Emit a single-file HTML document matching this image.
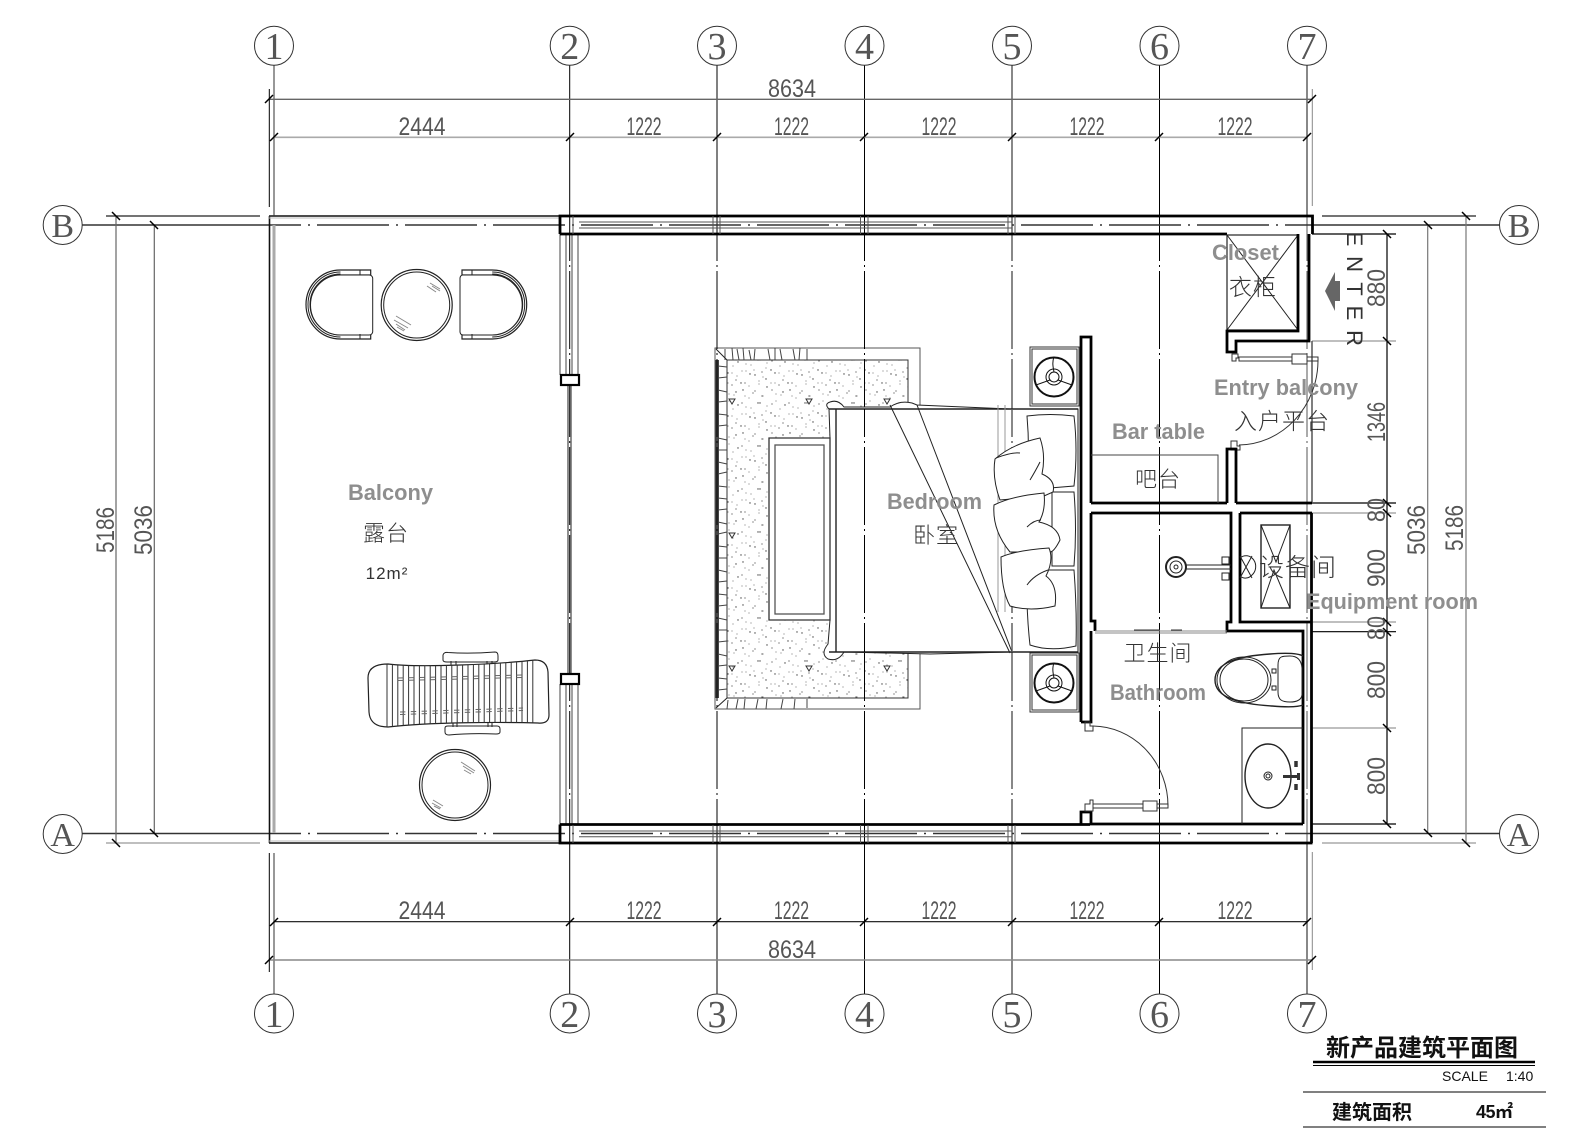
<!DOCTYPE html>
<html lang="zh">
<head>
<meta charset="utf-8">
<title>新产品建筑平面图</title>
<style>
html,body{margin:0;padding:0;background:#fff}
svg{display:block}
.dim{font-family:"Liberation Sans",sans-serif;font-size:25px;fill:#555;text-anchor:middle;font-weight:normal}
.axis{font-family:"Liberation Serif",serif;font-size:38px;fill:#555;text-anchor:middle}
.en{font-family:"Liberation Sans",sans-serif;font-weight:bold;font-size:22px;fill:#8e8e8e}
.cn{font-family:"Liberation Sans","Noto Sans CJK SC",sans-serif;font-weight:300;fill:#333;text-anchor:middle}
.bk{fill:none;stroke:#000;stroke-width:2.8}
.ln{fill:none;stroke:#222;stroke-width:1}
</style>
</head>
<body>
<svg width="1594" height="1140" viewBox="0 0 1594 1140" xmlns="http://www.w3.org/2000/svg">
<defs>
<pattern id="st" width="47" height="43" patternUnits="userSpaceOnUse">
<g fill="#444">
<circle cx="3" cy="4" r=".6"/><circle cx="11" cy="9" r=".5"/><circle cx="20" cy="3" r=".6"/><circle cx="29" cy="8" r=".5"/><circle cx="38" cy="3" r=".7"/><circle cx="44" cy="11" r=".5"/>
<circle cx="6" cy="16" r=".7"/><circle cx="15" cy="19" r=".5"/><circle cx="24" cy="14" r=".5"/><circle cx="33" cy="18" r=".7"/><circle cx="41" cy="20" r=".5"/>
<circle cx="2" cy="26" r=".5"/><circle cx="10" cy="28" r=".6"/><circle cx="19" cy="26" r=".7"/><circle cx="27" cy="29" r=".5"/><circle cx="37" cy="27" r=".5"/><circle cx="45" cy="30" r=".7"/>
<circle cx="7" cy="37" r=".5"/><circle cx="14" cy="35" r=".7"/><circle cx="23" cy="39" r=".5"/><circle cx="31" cy="36" r=".6"/><circle cx="40" cy="39" r=".6"/>
</g>
</pattern>
<clipPath id="lg"><path d="M388 664C420 668 500 664 535 660Q547 660 548 672L549 715Q549 724 538 723C500 722 430 722 388 727Q370 727 369 712L368 678Q368 664 388 664Z"/></clipPath>
</defs>
<rect width="1594" height="1140" fill="#fff"/>

<!-- rug -->
<path d="M920 405V348H715V709H920V652" fill="none" stroke="#555" stroke-width="1"/>
<rect x="727" y="360" width="181" height="338" fill="url(#st)" stroke="#333" stroke-width="1"/>
<rect x="710" y="347" width="181" height="338" fill="url(#st)" transform="translate(17,13)"/>
<line x1="717" y1="360" x2="717" y2="698" stroke="#444" stroke-width="4"/>
<line x1="719" y1="362" x2="727" y2="362" stroke="#444" stroke-width="0"/>
<path fill="none" stroke="#444" stroke-width="1" d="M718 366l9 1M718 378l9-1M718 390l9 2M718 402l9-1M718 414l9 1M718 426l9-1M718 438l9 2M718 450l9 0M718 462l9 2M718 474l9-2M718 486l9 1M718 498l9 1M718 510l9-1M718 522l9 2M718 534l9-2M718 546l9 1M718 558l9 0M718 570l9 2M718 582l9-1M718 594l9 1M718 606l9-1M718 618l9 2M718 630l9 0M718 642l9-1M718 654l9 2M718 666l9-1M718 678l9 1M718 690l9-1"/>
<path fill="none" stroke="#444" stroke-width="1" d="M725 349v11M732 348l1 12M737 349l2 11M743 348l1 12M749 350l2 10M755 349l-1 11M768 349l2 11M775 348v12M780 349l2 11M793 349l2 11M800 348l-1 12M807 349v11M728 700l-1 9M738 699l-2 10M745 699l-1 10M758 699l-2 10M767 699l-1 10M783 699l-2 10M795 699l-1 10M807 699v9"/>
<path d="M716 349L727 360M716 708L727 698" class="ln"/>
<g fill="none" stroke="#333" stroke-width="1">
<path d="M729 399h6l-3 5zM806 399h6l-3 5zM884 399h6l-3 5zM729 533h6l-3 5zM729 666h6l-3 5zM806 666h6l-3 5zM884 666h6l-3 5z"/>
</g>

<!-- grid lines -->
<g fill="none" stroke="#000" stroke-width="1">
<line x1="274" y1="65" x2="274" y2="216" stroke="#777" stroke-width="1.5"/>
<line x1="274" y1="853" x2="274" y2="994" stroke="#777" stroke-width="1.5"/>
<path d="M569.7 65V216M569.7 843V994M717 65V216M717 843V994M864.5 65V216M864.5 843V994M1159.5 65V216M1159.5 843V994"/>
<path d="M1012 65V216M1012 843V994M1307 65V216M1307 843V994" stroke="#555" stroke-width="1.4"/>
<g stroke-dasharray="78 4 2 4" stroke-dashoffset="33">
<line x1="569.7" y1="216" x2="569.7" y2="843"/>
<line x1="717" y1="216" x2="717" y2="843"/>
<line x1="864.5" y1="216" x2="864.5" y2="843"/>
<line x1="1012" y1="216" x2="1012" y2="843" stroke="#555" stroke-width="1.4"/>
<line x1="1159.5" y1="216" x2="1159.5" y2="843"/>
<line x1="1307" y1="216" x2="1307" y2="843" stroke="#555"/>
</g>
<g stroke-width="1.4" stroke="#333">
<path d="M82 225H269M1312 225H1503M82 833.5H269M1312 833.5H1503"/>
<line x1="269" y1="225" x2="1312" y2="225" stroke-dasharray="72 7 2 7" stroke-dashoffset="216"/>
<line x1="269" y1="833.5" x2="1312" y2="833.5" stroke-dasharray="72 7 2 7" stroke-dashoffset="216"/>
</g>
</g>

<!-- axis bubbles -->
<g fill="#fff" stroke="#333" stroke-width="1">
<circle cx="274" cy="45.7" r="19.5"/><circle cx="569.7" cy="45.7" r="19.5"/><circle cx="717" cy="45.7" r="19.5"/><circle cx="864.5" cy="45.7" r="19.5"/><circle cx="1012" cy="45.7" r="19.5"/><circle cx="1159.5" cy="45.7" r="19.5"/><circle cx="1307" cy="45.7" r="19.5"/>
<circle cx="274" cy="1013.5" r="19.5"/><circle cx="569.7" cy="1013.5" r="19.5"/><circle cx="717" cy="1013.5" r="19.5"/><circle cx="864.5" cy="1013.5" r="19.5"/><circle cx="1012" cy="1013.5" r="19.5"/><circle cx="1159.5" cy="1013.5" r="19.5"/><circle cx="1307" cy="1013.5" r="19.5"/>
<circle cx="62.7" cy="225" r="19.5"/><circle cx="1519" cy="225" r="19.5"/><circle cx="62.7" cy="834" r="19.5"/><circle cx="1519" cy="834" r="19.5"/>
</g>
<g class="axis">
<text x="274" y="59">1</text><text x="569.7" y="59">2</text><text x="717" y="59">3</text><text x="864.5" y="59">4</text><text x="1012" y="59">5</text><text x="1159.5" y="59">6</text><text x="1307" y="59">7</text>
<text x="274" y="1027">1</text><text x="569.7" y="1027">2</text><text x="717" y="1027">3</text><text x="864.5" y="1027">4</text><text x="1012" y="1027">5</text><text x="1159.5" y="1027">6</text><text x="1307" y="1027">7</text>
<text x="62.7" y="237" font-size="34">B</text><text x="1519" y="237" font-size="34">B</text><text x="62.7" y="846" font-size="34">A</text><text x="1519" y="846" font-size="34">A</text>
</g>

<!-- dimension lines -->
<g fill="none" stroke="#333" stroke-width="1.2">
<path d="M269 99.3H1312" stroke="#666" stroke-width="1.4"/>
<path d="M274 137.3H1307" stroke="#aaa" stroke-width="1.6"/>
<path d="M274 921.7H1307" stroke="#111"/>
<path d="M269 960H1312" stroke="#888" stroke-width="1.4"/>
<path d="M269.3 89V207M269.3 853V972" stroke="#000" stroke-width="1"/>
<path d="M1312.3 89V206M1312.3 852V970" stroke="#888" stroke-width="1"/>
<path d="M116 216V843M154.3 225V833" stroke="#666"/>
<path d="M1387 234V824" stroke="#000"/>
<path d="M1427.7 225V833M1466 216V843" stroke="#777"/>
<path d="M106 216H260M1322 216H1476" stroke="#222"/>
<path d="M106 843H260M1322 843H1476" stroke="#aaa" stroke-width="1.5"/>
<path d="M1312 234H1396M1312 503H1396M1312 631.7H1396M1312 824H1396" stroke="#000"/>
<path d="M1312 341H1396M1312 513H1396M1312 622H1396M1312 728H1396" stroke="#999"/>
<path stroke="#000" stroke-width="1.5" d="M265 103l8-8M270 141l8-8M566 141l8-8M713 141l8-8M860 141l8-8M1008 141l8-8M1155 141l8-8M1303 141l8-8M1308 103l8-8M270 926l8-8M566 926l8-8M713 926l8-8M860 926l8-8M1008 926l8-8M1155 926l8-8M1303 926l8-8M265 964l8-8M1308 964l8-8"/>
<path stroke="#000" stroke-width="1.5" d="M112 212l8 8M150 221l8 8M112 839l8 8M150 829l8 8M1383 230l8 8M1383 337l8 8M1383 499l8 8M1383 509l8 8M1383 618l8 8M1383 628l8 8M1383 724l8 8M1383 820l8 8M1424 221l8 8M1424 829l8 8M1462 212l8 8M1462 839l8 8"/>
</g>

<!-- dimension text -->
<g class="dim">
<text x="792" y="97" textLength="48" lengthAdjust="spacingAndGlyphs">8634</text>
<text x="422" y="135" textLength="47" lengthAdjust="spacingAndGlyphs">2444</text>
<text x="644" y="135" textLength="35" lengthAdjust="spacingAndGlyphs">1222</text>
<text x="791.5" y="135" textLength="35" lengthAdjust="spacingAndGlyphs">1222</text>
<text x="939" y="135" textLength="35" lengthAdjust="spacingAndGlyphs">1222</text>
<text x="1087" y="135" textLength="35" lengthAdjust="spacingAndGlyphs">1222</text>
<text x="1235" y="135" textLength="35" lengthAdjust="spacingAndGlyphs">1222</text>
<text x="422" y="919" textLength="47" lengthAdjust="spacingAndGlyphs">2444</text>
<text x="644" y="919" textLength="35" lengthAdjust="spacingAndGlyphs">1222</text>
<text x="791.5" y="919" textLength="35" lengthAdjust="spacingAndGlyphs">1222</text>
<text x="939" y="919" textLength="35" lengthAdjust="spacingAndGlyphs">1222</text>
<text x="1087" y="919" textLength="35" lengthAdjust="spacingAndGlyphs">1222</text>
<text x="1235" y="919" textLength="35" lengthAdjust="spacingAndGlyphs">1222</text>
<text x="792" y="958" textLength="48" lengthAdjust="spacingAndGlyphs">8634</text>
<text transform="translate(114,530) rotate(-90)" textLength="46" lengthAdjust="spacingAndGlyphs">5186</text>
<text transform="translate(152,530) rotate(-90)" textLength="50" lengthAdjust="spacingAndGlyphs">5036</text>
<text transform="translate(1425,530) rotate(-90)" textLength="50" lengthAdjust="spacingAndGlyphs">5036</text>
<text transform="translate(1463,528) rotate(-90)" textLength="46" lengthAdjust="spacingAndGlyphs">5186</text>
<text transform="translate(1385,288) rotate(-90)" textLength="38" lengthAdjust="spacingAndGlyphs">880</text>
<text transform="translate(1385,422) rotate(-90)" textLength="40" lengthAdjust="spacingAndGlyphs">1346</text>
<text transform="translate(1385,510) rotate(-90)" textLength="24" lengthAdjust="spacingAndGlyphs">80</text>
<text transform="translate(1385,568) rotate(-90)" textLength="38" lengthAdjust="spacingAndGlyphs">900</text>
<text transform="translate(1385,628) rotate(-90)" textLength="24" lengthAdjust="spacingAndGlyphs">80</text>
<text transform="translate(1385,680) rotate(-90)" textLength="38" lengthAdjust="spacingAndGlyphs">800</text>
<text transform="translate(1385,776) rotate(-90)" textLength="38" lengthAdjust="spacingAndGlyphs">800</text>
</g>

<!-- balcony outer -->
<line x1="274" y1="225" x2="274" y2="833" stroke="#aaa" stroke-width="3"/>
<line x1="269.5" y1="216" x2="269.5" y2="843" stroke="#111" stroke-width="1.6"/>
<line x1="269" y1="216" x2="560" y2="216" stroke="#333" stroke-width="1.8"/>
<line x1="269" y1="843" x2="560" y2="843" stroke="#333" stroke-width="1.8"/>
<path d="M269 218H560M269 841H560" fill="none" stroke="#bbb" stroke-width="1"/>

<!-- balcony door -->
<g fill="none" stroke="#444" stroke-width="1">
<path d="M560 234V375M566 234V375M572 234V375M578 234V375"/>
<path d="M568 385V674M571 385V674" stroke-width="1.2"/>
<path d="M560 684V825M566 684V825M572 684V825M578 684V825"/>
</g>
<g fill="#fff" stroke="#000" stroke-width="2.2">
<rect x="561" y="375" width="18" height="10"/>
<rect x="561" y="674" width="18" height="10"/>
</g>

<!-- top and bottom wall -->
<path d="M560 234V216H1312.5V234M560 234H1227M560 824.5V843H1312.5M560 824.5H1090" class="bk"/>
<g fill="none" stroke="#555" stroke-width="1">
<path d="M579 222H1012M579 228H1012M579 831H1012M579 836.7H1012"/>
<path d="M573 216V234M573 825V843M713 216V234M720 216V234M860.5 216V234M868 216V234M1008 216V234M1015 216V234"/>
<path d="M713 825V843M720 825V843M860.5 825V843M868 825V843M1008 825V843M1015 825V843"/>
</g>

<!-- right wall & closet -->
<rect x="1227" y="235" width="71" height="95" fill="none" stroke="#222" stroke-width="1.2"/>
<path d="M1227 235L1298 330M1298 235L1227 330" class="ln"/>
<path d="M1298 234V331H1227V352H1236V341H1309V234" class="bk"/>
<line x1="1312" y1="341" x2="1312" y2="503" stroke="#555" stroke-width="1.5"/>
<line x1="1311.5" y1="513" x2="1311.5" y2="843" stroke="#000" stroke-width="2.8"/>
<!-- entry door -->
<g fill="none" stroke="#333" stroke-width="1">
<path d="M1232 354h6v4h-2v3h-4zM1239 357H1318V361H1239Z"/>
<rect x="1292" y="354" width="15" height="10" fill="#fff"/>
<path d="M1318 361A80 85 0 0 1 1239 445"/>
<path d="M1231 441h6v5h3v4h-9z"/>
</g>
<path d="M1227 503V449H1236V503M1091 503H1227M1236 503H1312M1091 513H1231V622H1227V631H1303V824M1240 513H1312M1240 513V622H1312" class="bk"/>

<!-- central wall -->
<path d="M1081 722V337H1091V503M1091 513V621H1095V631M1081 722H1091V631M1081 824V812H1091V824H1303" class="bk"/>
<path d="M1095 631H1227M1095 633H1227" fill="none" stroke="#888" stroke-width="1"/>
<path d="M1134 630H1160M1171 630H1182" fill="none" stroke="#333" stroke-width="1"/>
<!-- bar table -->
<path d="M1091 455H1218V503" fill="none" stroke="#444" stroke-width="1"/>

<!-- equipment -->
<g fill="none" stroke="#222" stroke-width="1">
<rect x="1261" y="525" width="29" height="83" stroke-width="1.4"/>
<path d="M1261 525L1276 562L1290 525M1261 608L1274 570L1290 608"/>
<circle cx="1176" cy="567" r="10" stroke-width="2"/><circle cx="1176" cy="567" r="6"/><circle cx="1176" cy="567" r="2"/>
<path d="M1186 565H1231M1186 569H1231"/>
<rect x="1222" y="557" width="7" height="7"/><rect x="1222" y="573" width="7" height="7"/>
<path d="M1240 558A9 10 0 0 1 1252 575A9 10 0 0 1 1240 576M1240 556L1252 578M1252 556L1240 578"/>
</g>

<!-- toilet -->
<g fill="none" stroke="#222" stroke-width="1">
<path d="M1303 656Q1296 652 1270 654C1240 656 1215 662 1215 680C1215 698 1240 704 1272 706Q1296 708 1303 705" stroke-width="1.4"/>
<ellipse cx="1244" cy="680" rx="27" ry="23"/>
<ellipse cx="1244" cy="680" rx="24" ry="21"/>
<path d="M1278 665C1278 656 1282 656 1290 656Q1301 656 1302 668V695Q1301 702 1290 702C1282 702 1278 700 1278 692Z"/>
<path d="M1272 669h4v4h-4zM1272 686h4v4h-4z"/>
</g>

<!-- sink -->
<g fill="none" stroke="#222" stroke-width="1">
<path d="M1303 728H1242V824"/>
<ellipse cx="1268" cy="776" rx="23" ry="32" stroke-width="1.4"/>
<circle cx="1268" cy="776" r="4"/><circle cx="1268" cy="776" r="2"/>
</g>
<path d="M1283 775h14v-2h3v7h-3v-2h-14z" fill="#333"/>
<path d="M1296 761v6M1296 784v6" stroke="#333" stroke-width="3.5" fill="none"/>

<!-- bath door -->
<g fill="none" stroke="#333" stroke-width="1">
<path d="M1085 722h5v4h3v5h-8zM1085 804h5v-4h3v11h-8zM1093 804H1168V808H1093Z"/>
<rect x="1143" y="801" width="14" height="10" fill="#fff"/>
<path d="M1093 726A76 80 0 0 1 1168 806"/>
</g>

<!-- nightstands -->
<g fill="#fff" stroke="#333" stroke-width="1">
<rect x="1030" y="347" width="49" height="59"/><rect x="1032" y="349" width="45" height="55"/>
<rect x="1030" y="653" width="49" height="59"/><rect x="1032" y="655" width="45" height="55"/>
</g>
<g fill="none" stroke="#111" stroke-width="1">
<circle cx="1054" cy="377" r="19.5" stroke-width="2"/><circle cx="1054" cy="377" r="8"/><circle cx="1054" cy="377" r="5"/>
<path d="M1054 357C1052 362 1053 367 1054 372M1036 385L1050 380M1072 385L1058 380"/>
<circle cx="1054" cy="683" r="19.5" stroke-width="2"/><circle cx="1054" cy="683" r="8"/><circle cx="1054" cy="683" r="5"/>
<path d="M1054 663C1052 668 1053 673 1054 678M1036 691L1050 686M1072 691L1058 686"/>
</g>

<!-- bed -->
<path d="M829 409Q824 404 830 402Q838 399 844 407L890 407Q900 400 912 403L917 405L1010 409H1078V652H1010L930 654L844 652Q838 662 828 659Q820 654 828 644L830 620L830 438L829 409Z" fill="#fff" stroke="#222" stroke-width="1"/>
<path d="M836 409V652M829 409H1078M829 652H1078" fill="none" stroke="#222" stroke-width="1.4"/>
<path d="M830 438H769V620H830Z" fill="#fff" stroke="#333" stroke-width="1.3"/>
<rect x="775" y="445" width="49" height="169" fill="none" stroke="#555" stroke-width="1.3"/>
<path d="M890 405L1010 653M917 405L1012 652" class="ln"/>
<path d="M998 405V612M1005 405V612" fill="none" stroke="#999" stroke-width="1"/>
<line x1="864.5" y1="409" x2="864.5" y2="652" stroke="#000" stroke-width="1" stroke-dasharray="78 4 2 4" stroke-dashoffset="226"/>
<line x1="1012" y1="409" x2="1012" y2="652" stroke="#555" stroke-width="1.4" stroke-dasharray="78 4 2 4" stroke-dashoffset="226"/>
<!-- pillows -->
<g fill="#fff" stroke="#222" stroke-width="1">
<path d="M1027 416Q1050 413 1074 416Q1078 450 1074 486L1050 488L1027 486Q1030 450 1027 416Z"/>
<path d="M1052 492H1074Q1077 530 1074 566H1052Z"/>
<path d="M1027 570H1074Q1077 610 1076 646Q1050 652 1030 645Q1026 610 1027 570Z"/>
<path d="M995 459Q1012 444 1040 438Q1046 455 1042 474Q1056 480 1053 492L1044 496L1000 500Q992 478 995 459Z"/>
<path d="M994 505Q1012 496 1044 493Q1046 510 1039 522Q1058 526 1060 540Q1054 552 1050 552L1010 552Q992 530 994 505Z"/>
<path d="M1001 557Q1018 550 1049 548Q1054 560 1046 576Q1058 585 1055 606Q1030 612 1010 606Q1001 590 1001 557Z"/>
</g>
<path d="M996 458Q1012 452 1020 453M1030 480Q1036 470 1040 462M1027 527Q1034 520 1041 520M1027 585Q1034 575 1048 570" class="ln"/>

<!-- balcony furniture -->
<g fill="none" stroke="#222" stroke-width="1">
<path d="M370.7 270H340.5A34.5 34.5 0 0 0 340.5 339H370.7V334H340.5A29.5 29.5 0 0 1 340.5 275H370.7Z" stroke-width="1.2"/>
<path d="M340.5 272A32 32 0 0 0 340.5 337M340.5 274A30 30 0 0 0 340.5 335"/>
<path d="M369 275Q372 275 372.7 278V332Q372 335 369 335H340.5A30 30 0 0 1 340.5 275Z" fill="#fff"/>
<path d="M360 270V275M360 334V339"/>
<path d="M462 270H492.2A34.5 34.5 0 0 1 492.2 339H462V334H492.2A29.5 29.5 0 0 0 492.2 275H462Z" stroke-width="1.2"/>
<path d="M492.2 272A32 32 0 0 1 492.2 337M492.2 274A30 30 0 0 1 492.2 335"/>
<path d="M463 275Q460.5 275 460 278V332Q460.5 335 463 335H492.2A30 30 0 0 0 492.2 275Z" fill="#fff"/>
<path d="M472 270V275M472 334V339"/>
<circle cx="416.7" cy="305" r="35.5" stroke-width="1.2"/><circle cx="416.7" cy="305" r="33"/>
<circle cx="455" cy="785" r="35.5" stroke-width="1.2"/><circle cx="455" cy="785" r="33"/>
</g>
<path d="M430 283l10 6M432 286l8 5M427 286l9 6M396 316l15 9M394 320l14 8M396 324l9 6M397 327l7 4M461 762l14 9M463 766l11 7M464 770l7 4M433 800l10 6M432 803l9 5M434 806l6 3" fill="none" stroke="#888" stroke-width="1"/>
<!-- lounger -->
<g fill="#fff" stroke="#222" stroke-width="1">
<path d="M443 655Q444 652 448 652.5Q470 654 495 652Q498 652 498 656V660Q498 662 494 662H447Q443 662 443 660Z"/>
<path d="M445 728Q445 726 448 726H497Q500 726 500 729V732Q500 734 496 734Q470 733 449 735Q445 735 445 732Z"/>
<path d="M451 661v4M456 661v4M487 661v4M492 661v4M453 722v5M457 722v5M488 722v5M492 722v5"/>
</g>
<path d="M388 664C420 668 500 664 535 660Q547 660 548 672L549 715Q549 724 538 723C500 722 430 722 388 727Q370 727 369 712L368 678Q368 664 388 664Z" fill="#fff" stroke="#222" stroke-width="1.2"/>
<g clip-path="url(#lg)">
<path fill="none" stroke="#333" stroke-width="1" d="M387 655V735M392.4 655V735M397.8 655V735M403.2 655V735M408.6 655V735M414 655V735M419.4 655V735M424.8 655V735M430.2 655V735M435.6 655V735M441 655V735M446.4 655V735M451.8 655V735M457.2 655V735M462.6 655V735M468 655V735M473.4 655V735M478.8 655V735M484.2 655V735M489.6 655V735M495 655V735M500.4 655V735M505.8 655V735M511.2 655V735M516.6 655V735M522 655V735M527.4 655V735M532.8 655V735"/>
</g>
<path d="M397.8 678L523 675M397.8 680.5L523 677.5M400 712L523 708M400 714.5L523 710.5" fill="none" stroke="#666" stroke-width="1" stroke-dasharray="5.4 5.4"/>

<!-- enter arrow -->
<polygon points="1325,291 1335,272 1335,281 1340,281 1340,301 1335,301 1335,311" fill="#666"/>

<!-- labels -->
<g class="en">
<text x="1212" y="260" textLength="67" lengthAdjust="spacingAndGlyphs">Closet</text>
<text x="1214" y="395" textLength="144" lengthAdjust="spacingAndGlyphs">Entry balcony</text>
<text x="1112" y="439" textLength="93" lengthAdjust="spacingAndGlyphs">Bar table</text>
<text x="887" y="509" textLength="95" lengthAdjust="spacingAndGlyphs">Bedroom</text>
<text x="1110" y="700" textLength="96" lengthAdjust="spacingAndGlyphs">Bathroom</text>
<text x="1306" y="609" textLength="172" lengthAdjust="spacingAndGlyphs">Equipment room</text>
<text x="348" y="500" textLength="85" lengthAdjust="spacingAndGlyphs">Balcony</text>
</g>
<g class="cn">
<text x="1253" y="295" font-size="23" letter-spacing="1">衣柜</text>
<text x="1282" y="429" font-size="23" letter-spacing="1">入户平台</text>
<text x="1158" y="487" font-size="22" letter-spacing="1">吧台</text>
<text x="1298" y="576" font-size="25" letter-spacing="1">设备间</text>
<text x="1158" y="661" font-size="22" letter-spacing="1">卫生间</text>
<text x="936" y="543" font-size="22" letter-spacing="1">卧室</text>
<text x="386" y="541" font-size="22" letter-spacing="1">露台</text>
</g>
<text x="387" y="579" font-family="'Liberation Sans',sans-serif" font-size="17" fill="#333" text-anchor="middle" letter-spacing="1">12m²</text>
<g font-family="'Liberation Sans',sans-serif" font-size="22" fill="#333" text-anchor="middle">
<text transform="translate(1347,239) rotate(90)">E</text>
<text transform="translate(1347,264) rotate(90)">N</text>
<text transform="translate(1347,289) rotate(90)">T</text>
<text transform="translate(1347,313) rotate(90)">E</text>
<text transform="translate(1347,338) rotate(90)">R</text>
</g>

<!-- title block -->
<text x="1422" y="1056" font-family="'Liberation Sans','Noto Sans CJK SC',sans-serif" font-size="24" font-weight="bold" fill="#111" text-anchor="middle">新产品建筑平面图</text>
<path d="M1313 1062H1535" stroke="#000" stroke-width="2.5"/>
<path d="M1313 1065.5H1535" stroke="#000" stroke-width="1"/>
<text x="1442" y="1081" font-family="'Liberation Sans',sans-serif" font-size="14" fill="#111">SCALE</text>
<text x="1506" y="1081" font-family="'Liberation Sans',sans-serif" font-size="14" fill="#111">1:40</text>
<path d="M1303 1092H1546M1303 1127H1546" stroke="#000" stroke-width="1"/>
<text x="1332" y="1119" font-family="'Liberation Sans','Noto Sans CJK SC',sans-serif" font-size="20" font-weight="bold" fill="#111">建筑面积</text>
<text x="1476" y="1118" font-family="'Liberation Sans','Noto Sans CJK SC',sans-serif" font-size="18" font-weight="bold" fill="#111" letter-spacing="-.5">45㎡</text>
</svg>
</body>
</html>
